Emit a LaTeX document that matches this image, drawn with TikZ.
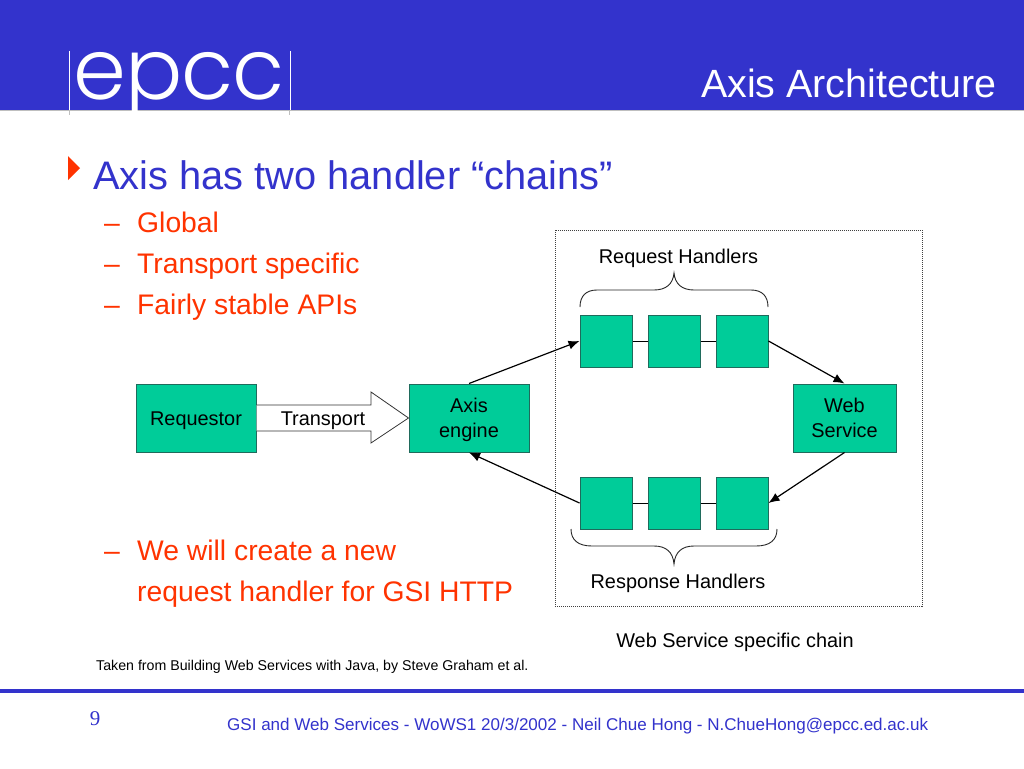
\documentclass[tikz,border=0pt]{standalone}
\usepackage{fontspec}
\setmainfont{Liberation Sans}
\newfontfamily\logofont[LetterSpace=-1]{Poppins Light}
\newfontfamily\numfont{Liberation Serif}
\usetikzlibrary{positioning,arrows.meta}
\definecolor{epccblue}{HTML}{3333CC}
\definecolor{epccred}{HTML}{FF3300}
\definecolor{boxgreen}{HTML}{00CC99}
\definecolor{boxedge}{HTML}{1F6B5C}
\newcommand{\boxline}{\rule[-5pt]{0pt}{24pt}}
\tikzset{
  txt/.style={anchor=base west,inner sep=0pt,font=\fontsize{#1}{#1}\selectfont},
  sub/.style={txt=28.3,text=epccred},
  lbl/.style={anchor=base,inner sep=0pt,font=\fontsize{19.9}{24}\selectfont,align=center},
  bigbox/.style={draw=boxedge,line width=1pt,fill=boxgreen,inner sep=0pt,minimum height=68pt,font=\fontsize{19.9}{24.5}\selectfont,align=center},
  handler/.style={draw=boxedge,line width=1pt,fill=boxgreen,inner sep=0pt,minimum size=52pt},
  link/.style={-{Latex[length=11pt,width=9pt]},line width=1.2pt},
  brace/.style={line width=.9pt,black!85}
}
\begin{document}
\begin{tikzpicture}[x=1pt,y=-1pt]
\useasboundingbox (0,0) rectangle (1024,768);
\fill[white] (0,0) rectangle (1024,768);
% header
\fill[epccblue] (0,0) rectangle (1024,110);
\draw[black!25,line width=.8pt] (0,110.5) -- (1024,110.5);
\node[anchor=base,inner sep=0pt,text=white,font=\logofont\fontsize{85}{85}\selectfont] (logo) at (179,99) {epcc};
\draw[white,line width=1pt] (69,51) -- (69,110);
\draw[white,line width=1pt] (290,51) -- (290,110);
\draw[black!25,line width=1pt] (69,110) -- (69,115);
\draw[black!25,line width=1pt] (289,110) -- (289,115);
\node[anchor=base east,inner sep=0pt,text=white,font=\fontsize{39.4}{39.4}\selectfont] (title) at (997,97) {Axis Architecture};
% bullets
\fill[epccred] (68,156) -- (80,168) -- (68,180) -- cycle;
\node[txt=39.8,text=epccblue] (head) at (93,189) {Axis has two handler “chains”};
\node[sub] (dasha) at (104,232) {–};
\node[sub] (global) at (137,232) {Global};
\node[sub] (dashb) at (104,273) {–};
\node[sub] (specific) at (137,273) {Transport specific};
\node[sub] (dashc) at (104,314) {–};
\node[sub] (stable) at (137,314) {Fairly stable APIs};
\node[sub] (dashd) at (104,560) {–};
\node[sub] (create) at (137,560) {We will create a new};
\node[sub] (gsi) at (137,601) {request handler for GSI HTTP};
% chain frame
\draw[black!75,densely dotted,line width=1pt] (555,230) rectangle (922,606);
% boxes
\node[bigbox,minimum width=120pt] (requestor) at (196,418) {\boxline Requestor};
\node[bigbox,minimum width=120pt] (engine) at (469,418) {\boxline Axis\\\boxline engine};
\node[bigbox,minimum width=103pt] (service) at (844.5,418) {\boxline Web\\\boxline Service};
\node[handler] (reqa) at (606,341) {};
\node[handler] (reqb) at (674,341) {};
\node[handler] (reqc) at (742,341) {};
\node[handler] (resa) at (606,503) {};
\node[handler] (resb) at (674,503) {};
\node[handler] (resc) at (742,503) {};
% transport arrow
\draw[black!80,fill=white,line width=.8pt] (requestor.east |- 0,405) -- (371,405) -- (371,392) -- (engine.west) -- (371,443) -- (371,431) -- (requestor.east |- 0,431);
\node[lbl] (transport) at (323,425) {Transport};
% links
\draw (reqa) -- (reqb);
\draw (reqb) -- (reqc);
\draw (resa) -- (resb);
\draw (resb) -- (resc);
\draw[link] (engine.north) -- (reqa.west);
\draw[link] (reqc.east) -- (service.north);
\draw[link] (service.south) -- (resc.east);
\draw[link] (resa.west) -- (engine.south);
% braces
\draw[brace] (580,307) .. controls (580,296) and (586,290) .. (597,290) -- (654,290) .. controls (666,290) and (673,284) .. (674,273) .. controls (675,284) and (682,290) .. (694,290) -- (751,290) .. controls (762,290) and (768,296) .. (768,307);
\draw[brace] (571,529) .. controls (571,540) and (578,546) .. (592,546) -- (654,546) .. controls (666,546) and (673,552) .. (674,564) .. controls (675,552) and (682,546) .. (694,546) -- (756,546) .. controls (770,546) and (777,540) .. (777,529);
% labels
\node[lbl] (reqlbl) at (678.5,263) {Request Handlers};
\node[lbl] (reslbl) at (678,588) {Response Handlers};
\node[lbl] (chainlbl) at (735,647) {Web Service specific chain};
\node[txt=14.2] (taken) at (96,670) {Taken from Building Web Services with Java, by Steve Graham et al.};
% footer
\fill[epccblue] (0,689) rectangle (1024,693);
\node[anchor=base,inner sep=0pt,text=epccblue,font=\numfont\fontsize{21}{21}\selectfont] (num) at (95,725) {9};
\node[txt=17.03,text=epccblue] (foot) at (227,730) {GSI and Web Services - WoWS1 20/3/2002 - Neil Chue Hong - N.ChueHong@epcc.ed.ac.uk};
\end{tikzpicture}
\end{document}
